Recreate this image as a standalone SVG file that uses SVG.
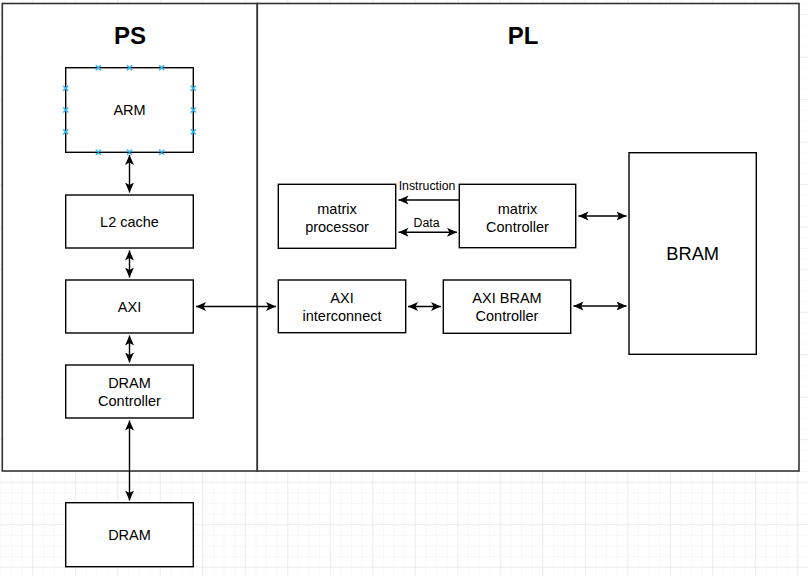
<svg xmlns="http://www.w3.org/2000/svg" width="808" height="576" viewBox="0 0 808 576">
<style>
.box{fill:#fff;stroke:#000;stroke-width:1.4}
.outer{fill:#fff;stroke:#333;stroke-width:1.6}
.t{font-family:"Liberation Sans",Arial,sans-serif;font-size:14.5px;fill:#000;text-anchor:middle}
.lbl{font-family:"Liberation Sans",Arial,sans-serif;font-size:12.3px;fill:#000;text-anchor:middle}
.title{font-family:"Liberation Sans",Arial,sans-serif;font-size:24px;font-weight:bold;fill:#000;text-anchor:middle}
.c{fill:none;stroke:#000;stroke-width:1.4}
.x{stroke:#29b6f2;stroke-width:1.5;fill:none}
</style>
<defs>
<pattern id="minor" patternUnits="userSpaceOnUse" x="32.3" y="14.2" width="10.625" height="10.625">
<path d="M0,0 H10.625 M0,0 V10.625" stroke="#f2f2f2" stroke-width="1" fill="none"/>
</pattern>
<pattern id="major" patternUnits="userSpaceOnUse" x="32.3" y="14.2" width="42.5" height="42.5">
<path d="M0,0 H42.5 M0,0 V42.5" stroke="#e4e4e4" stroke-width="1" fill="none"/>
</pattern>
<marker id="ah" markerUnits="userSpaceOnUse" markerWidth="12" markerHeight="10" refX="10" refY="4.5" orient="auto-start-reverse">
<path d="M0,0 L10,4.5 L0,9 L2.5,4.5 z" fill="#000"/>
</marker>
</defs>
<rect width="808" height="576" fill="#fff"/>
<rect width="808" height="576" fill="url(#minor)"/>
<rect width="808" height="576" fill="url(#major)"/>

<g id="ps">
<rect class="outer" x="2.3" y="3.5" width="255" height="467.5"/>
<text class="title" x="130" y="43.5">PS</text>
</g>
<g id="pl">
<rect class="outer" x="257.3" y="3.5" width="541.7" height="467.5"/>
<text class="title" x="523" y="43.5">PL</text>
</g>

<g id="connectors">
<line class="c" x1="129.5" y1="155" x2="129.5" y2="192.5" marker-start="url(#ah)" marker-end="url(#ah)"/>
<line class="c" x1="129.5" y1="250.5" x2="129.5" y2="277.5" marker-start="url(#ah)" marker-end="url(#ah)"/>
<line class="c" x1="129.5" y1="335.5" x2="129.5" y2="362.5" marker-start="url(#ah)" marker-end="url(#ah)"/>
<line class="c" x1="129.5" y1="420.5" x2="129.5" y2="500.5" marker-start="url(#ah)" marker-end="url(#ah)"/>
<line class="c" x1="196" y1="306.5" x2="276" y2="306.5" marker-start="url(#ah)" marker-end="url(#ah)"/>
<line class="c" x1="408" y1="306.5" x2="441" y2="306.5" marker-start="url(#ah)" marker-end="url(#ah)"/>
<line class="c" x1="573.5" y1="306" x2="626.5" y2="306" marker-start="url(#ah)" marker-end="url(#ah)"/>
<line class="c" x1="578.5" y1="216" x2="626.5" y2="216" marker-start="url(#ah)" marker-end="url(#ah)"/>
<line class="c" x1="459" y1="200" x2="398.5" y2="200" marker-end="url(#ah)"/>
<line class="c" x1="398.5" y1="232.3" x2="457" y2="232.3" marker-start="url(#ah)" marker-end="url(#ah)"/>
<rect x="397" y="178" width="60" height="14" fill="#fff"/>
<text class="lbl" x="427" y="189.5">Instruction</text>
<text class="lbl" x="426.5" y="226.5">Data</text>
</g>

<g id="arm">
<rect class="box" x="65.7" y="67.7" width="127.6" height="84.6"/>
<text class="t" x="129.5" y="115">ARM</text>
<g class="x">
<path d="M95.8,65.2 l5,5 m0,-5 l-5,5 M127,65.2 l5,5 m0,-5 l-5,5 M159.2,65.2 l5,5 m0,-5 l-5,5"/>
<path d="M95.8,149.8 l5,5 m0,-5 l-5,5 M127,149.8 l5,5 m0,-5 l-5,5 M159.2,149.8 l5,5 m0,-5 l-5,5"/>
<path d="M63.2,85.8 l5,5 m0,-5 l-5,5 M63.2,107.5 l5,5 m0,-5 l-5,5 M63.2,129.2 l5,5 m0,-5 l-5,5"/>
<path d="M190.8,85.8 l5,5 m0,-5 l-5,5 M190.8,107.5 l5,5 m0,-5 l-5,5 M190.8,129.2 l5,5 m0,-5 l-5,5"/>
</g>
</g>
<g id="l2">
<rect class="box" x="65.7" y="195" width="127.6" height="53"/>
<text class="t" x="129.5" y="226.5">L2 cache</text>
</g>
<g id="axi">
<rect class="box" x="65.7" y="280" width="127.6" height="53"/>
<text class="t" x="129.5" y="311.5">AXI</text>
</g>
<g id="dramctl">
<rect class="box" x="65.7" y="365" width="127.6" height="53"/>
<text class="t" x="129.5" y="388">DRAM</text>
<text class="t" x="129.5" y="405.5">Controller</text>
</g>
<g id="dram">
<rect class="box" x="65.7" y="502.7" width="127.6" height="64"/>
<text class="t" x="129.5" y="539.5">DRAM</text>
</g>
<g id="mproc">
<rect class="box" x="278.3" y="184.3" width="117.4" height="64"/>
<text class="t" x="337" y="214">matrix</text>
<text class="t" x="337" y="231.5">processor</text>
</g>
<g id="mctl">
<rect class="box" x="459.3" y="184.3" width="116.4" height="63.4"/>
<text class="t" x="517.5" y="214">matrix</text>
<text class="t" x="517.5" y="231.5">Controller</text>
</g>
<g id="axiic">
<rect class="box" x="278.3" y="280" width="127.4" height="52.7"/>
<text class="t" x="342" y="303">AXI</text>
<text class="t" x="342" y="320.5">interconnect</text>
</g>
<g id="axibram">
<rect class="box" x="443.3" y="280" width="127.4" height="53.3"/>
<text class="t" x="507" y="303">AXI BRAM</text>
<text class="t" x="507" y="320.5">Controller</text>
</g>
<g id="bram">
<rect class="box" x="629" y="152.7" width="127.3" height="201.6"/>
<text class="t" x="692.7" y="259.5" style="font-size:18.3px">BRAM</text>
</g>
</svg>
